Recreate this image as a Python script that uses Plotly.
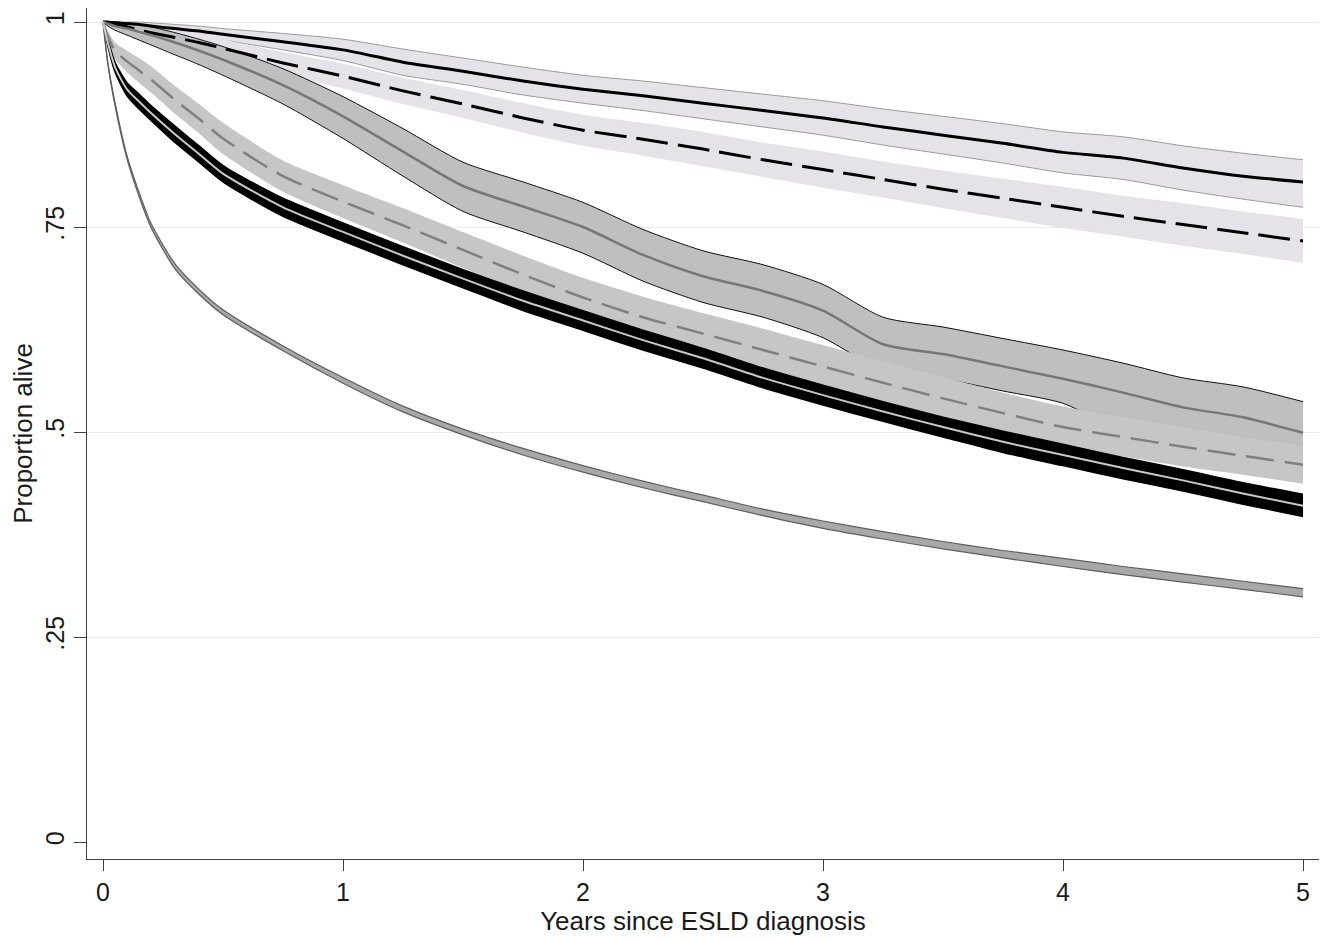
import plotly.graph_objects as go

# time grid (years since ESLD diagnosis)
t = [0, 0.02, 0.05, 0.1, 0.15, 0.2, 0.3, 0.4, 0.5, 0.75, 1, 1.25, 1.5, 1.75, 2,
     2.25, 2.5, 2.75, 3, 3.25, 3.5, 3.75, 4, 4.25, 4.5, 4.75, 5]

# Group A: solid black, lavender band with gray borders
A_est = [1, 1, 0.999, 0.998, 0.997, 0.995, 0.992, 0.989, 0.985, 0.976, 0.966, 0.951, 0.94, 0.928, 0.918,
         0.91, 0.901, 0.892, 0.883, 0.872, 0.862, 0.852, 0.841, 0.834, 0.822, 0.812, 0.805]
A_hi = [1, 1, 1, 1, 1, 0.999, 0.997, 0.995, 0.992, 0.986, 0.979, 0.967, 0.956, 0.945, 0.935,
        0.928, 0.92, 0.912, 0.904, 0.894, 0.885, 0.876, 0.866, 0.86, 0.849, 0.84, 0.832]
A_lo = [1, 1, 0.998, 0.996, 0.994, 0.991, 0.987, 0.983, 0.978, 0.966, 0.953, 0.935, 0.924, 0.911, 0.901,
        0.892, 0.882, 0.872, 0.862, 0.85, 0.839, 0.828, 0.816, 0.808, 0.795, 0.784, 0.774]

# Group B: dashed black, lavender band
B_est = [1, 0.999, 0.997, 0.994, 0.99, 0.987, 0.981, 0.975, 0.968, 0.95, 0.934, 0.916, 0.9, 0.883, 0.868,
         0.857, 0.845, 0.832, 0.82, 0.808, 0.796, 0.785, 0.774, 0.763, 0.753, 0.743, 0.733]
B_hi = [1, 1, 1, 0.999, 0.997, 0.995, 0.991, 0.986, 0.979, 0.963, 0.949, 0.932, 0.917, 0.901, 0.887,
        0.877, 0.866, 0.853, 0.842, 0.83, 0.819, 0.809, 0.799, 0.788, 0.779, 0.769, 0.76]
B_lo = [1, 0.997, 0.994, 0.989, 0.983, 0.979, 0.971, 0.964, 0.957, 0.937, 0.919, 0.9, 0.883, 0.865, 0.849,
        0.837, 0.824, 0.811, 0.798, 0.786, 0.773, 0.761, 0.749, 0.738, 0.727, 0.717, 0.706]

# Group C: solid gray, gray band with black borders
C_est = [1, 0.998, 0.995, 0.992, 0.988, 0.984, 0.975, 0.965, 0.954, 0.923, 0.885, 0.842, 0.8, 0.775, 0.75,
         0.716, 0.69, 0.672, 0.648, 0.607, 0.595, 0.58, 0.565, 0.548, 0.53, 0.518, 0.499]
C_hi = [1, 1, 1, 0.999, 0.997, 0.994, 0.987, 0.979, 0.97, 0.943, 0.909, 0.87, 0.829, 0.805, 0.78,
        0.747, 0.721, 0.704, 0.68, 0.64, 0.628, 0.614, 0.6, 0.584, 0.566, 0.555, 0.537]
C_lo = [1, 0.995, 0.99, 0.984, 0.978, 0.972, 0.96, 0.948, 0.935, 0.9, 0.858, 0.812, 0.769, 0.744, 0.718,
        0.684, 0.658, 0.64, 0.615, 0.575, 0.565, 0.55, 0.535, 0.5, 0.48, 0.468, 0.455]

# Group D: dashed gray, gray band
D_est = [1, 0.983, 0.965, 0.952, 0.941, 0.93, 0.905, 0.882, 0.858, 0.812, 0.781, 0.752, 0.722, 0.692, 0.664,
         0.64, 0.62, 0.6, 0.58, 0.56, 0.541, 0.523, 0.506, 0.494, 0.482, 0.471, 0.46]
D_hi = [1, 0.989, 0.975, 0.965, 0.956, 0.946, 0.922, 0.9, 0.877, 0.831, 0.801, 0.773, 0.744, 0.715, 0.688,
        0.665, 0.645, 0.626, 0.606, 0.586, 0.567, 0.548, 0.531, 0.518, 0.506, 0.494, 0.483]
D_lo = [1, 0.977, 0.955, 0.939, 0.926, 0.914, 0.888, 0.864, 0.839, 0.793, 0.761, 0.731, 0.7, 0.669, 0.64,
        0.615, 0.595, 0.574, 0.554, 0.534, 0.515, 0.498, 0.481, 0.47, 0.458, 0.448, 0.437]

# Group E: light gray line inside a black band
E_est = [1, 0.975, 0.945, 0.918, 0.903, 0.889, 0.863, 0.839, 0.815, 0.774, 0.744, 0.715, 0.687, 0.66, 0.636,
         0.612, 0.59, 0.566, 0.545, 0.525, 0.506, 0.488, 0.472, 0.456, 0.441, 0.425, 0.41]
E_hi = [1, 0.979, 0.951, 0.926, 0.912, 0.898, 0.873, 0.849, 0.825, 0.785, 0.755, 0.726, 0.698, 0.672, 0.648,
        0.624, 0.602, 0.578, 0.557, 0.537, 0.518, 0.501, 0.485, 0.469, 0.454, 0.438, 0.424]
E_lo = [1, 0.971, 0.939, 0.91, 0.894, 0.88, 0.853, 0.829, 0.805, 0.763, 0.733, 0.704, 0.676, 0.648, 0.624,
        0.6, 0.578, 0.554, 0.533, 0.513, 0.494, 0.475, 0.459, 0.443, 0.428, 0.412, 0.397]

# Group F: lowest curve, narrow gray band
F_est = [1, 0.95, 0.9, 0.835, 0.79, 0.752, 0.702, 0.671, 0.646, 0.602, 0.563, 0.528, 0.5, 0.476, 0.455,
         0.436, 0.419, 0.402, 0.387, 0.374, 0.362, 0.351, 0.341, 0.331, 0.322, 0.313, 0.304]
F_hi = [1, 0.9515, 0.902, 0.837, 0.7925, 0.7545, 0.705, 0.674, 0.649, 0.605, 0.5665, 0.5315, 0.5035, 0.48, 0.459,
        0.44, 0.423, 0.406, 0.3915, 0.3785, 0.3665, 0.3555, 0.346, 0.336, 0.327, 0.318, 0.309]
F_lo = [1, 0.9485, 0.898, 0.833, 0.7875, 0.7495, 0.699, 0.668, 0.643, 0.599, 0.5595, 0.5245, 0.4965, 0.472, 0.451,
        0.432, 0.415, 0.398, 0.3825, 0.3695, 0.3575, 0.3465, 0.336, 0.326, 0.317, 0.308, 0.299]

y_ticks = [0, 0.25, 0.5, 0.75, 1]
y_ticktext = ["0", ".25", ".5", ".75", "1"]
y_grid = [0.25, 0.5, 0.75, 1]
x_ticks = [0, 1, 2, 3, 4, 5]

fig = go.Figure()
SM = 0.7


def band(lo, hi, fill, line_color=None, line_width=0):
    lc = line_color or fill
    fig.add_trace(go.Scatter(x=t, y=lo, mode="lines", line_shape="spline",
                             line=dict(color=lc, width=line_width, smoothing=SM),
                             hoverinfo="skip", showlegend=False))
    fig.add_trace(go.Scatter(x=t, y=hi, mode="lines", line_shape="spline",
                             fill="tonexty", fillcolor=fill,
                             line=dict(color=lc, width=line_width, smoothing=SM),
                             hoverinfo="skip", showlegend=False))


def line(est, color, width, dash="solid"):
    fig.add_trace(go.Scatter(x=t, y=est, mode="lines", line_shape="spline",
                             line=dict(color=color, width=width, dash=dash, smoothing=SM),
                             showlegend=False))


LAV = "#e5e3e8"
band(A_lo, A_hi, LAV, "#9b9b9b", 1)
band(B_lo, B_hi, LAV, None, 0)
band(C_lo, C_hi, "#bfbfbf", "#111111", 1)
band(D_lo, D_hi, "#c6c6c6", None, 0)
band(E_lo, E_hi, "#000000", "#000000", 1.5)
band(F_lo, F_hi, "#a8a8a8", "#5e5e5e", 1.2)

line(A_est, "#000000", 3)
line(B_est, "#000000", 3, "32px,10px")
line(C_est, "#777777", 2.5)
line(D_est, "#808080", 2.5, "28px,11px")
line(E_est, "#c8c8c8", 2)

FONT = "Liberation Sans, Arial, sans-serif"
# the page body adds an 8px offset; figure size and margins compensate for it
fig.update_layout(
    width=1321, height=933,
    margin=dict(l=79, r=10, t=0, b=82),
    paper_bgcolor="white", plot_bgcolor="white",
    font=dict(family=FONT, size=25, color="#1a1a1a"),
    xaxis=dict(range=[-16 / 240, 5 + 16 / 240], tickvals=x_ticks, automargin=False,
               showgrid=False, zeroline=False,
               showline=True, linecolor="#404040", linewidth=1.2,
               ticks="outside", ticklen=11, tickcolor="#404040",
               tickfont=dict(size=25),
               title=dict(text="Years since ESLD diagnosis", standoff=1,
                          font=dict(size=26))),
    yaxis=dict(range=[-17 / 820, 1 + 14 / 820], tickvals=y_ticks, ticktext=y_ticktext,
               automargin=False,
               tickangle=-90, showgrid=False, zeroline=False,
               showline=True, linecolor="#404040", linewidth=1.2,
               ticks="outside", ticklen=12, tickcolor="#404040",
               tickfont=dict(size=25),
               minor=dict(tickvals=y_grid, showgrid=True, gridcolor="#eaeaea",
                          gridwidth=1, ticks=""),
               title=dict(text="Proportion alive", standoff=4,
                          font=dict(size=26))),
)

fig.write_html("out.html")
